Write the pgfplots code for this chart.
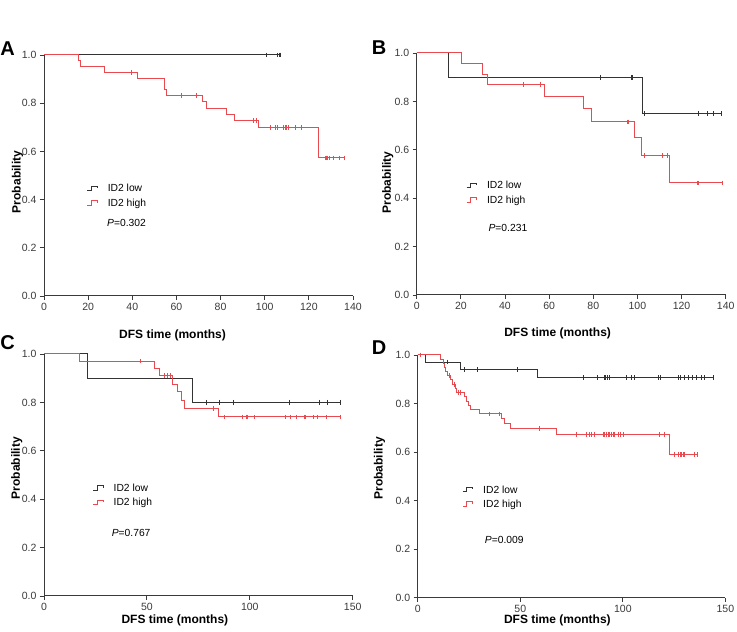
\documentclass[border=0pt]{standalone}
\usepackage{fontspec}
\setmainfont{Liberation Sans}
\usepackage{pgfplots}
\pgfplotsset{compat=1.18}
\definecolor{kmred}{HTML}{E84A50}
\definecolor{kmblack}{HTML}{333333}
\definecolor{axgray}{HTML}{3A3A3A}
\pgfplotsset{
 kmaxis/.style={
  scale only axis, xmin=0, ymin=0, ymax=1,
  axis x line*=bottom, axis y line*=left,
  axis line style={axgray, line width=1pt, -},
  tick style={axgray, line width=0.9pt},
  tick align=outside, major tick length=4pt,
  ytick={0,0.2,0.4,0.6,0.8,1},
  yticklabel style={/pgf/number format/fixed, /pgf/number format/fixed zerofill, /pgf/number format/precision=1},
  ticklabel style={font=\fontsize{10.5}{12}\selectfont, text=axgray},
  /pgf/number format/assume math mode=true,
  xlabel={DFS time (months)}, ylabel={Probability},
  label style={font=\bfseries\fontsize{12}{14}\selectfont, text=black},
  clip=false,
  legend cell align=left,
  legend style={draw=none, fill=none, inner sep=0pt, outer sep=0pt, anchor=north west,
    font=\fontsize{10.3}{12}\selectfont, row sep=4.7pt, column sep=10pt,
    nodes={inner sep=0pt, text height=7.5pt, text depth=2.2pt}},
  legend image code/.code={\draw[#1, line width=0.9pt] (0pt,-1.5pt) -- (4pt,-1.5pt) -- (4pt,3pt) -- (10pt,3pt) -- (10pt,1pt);},
 },
 kmline/.style={const plot, no marks, line width=1pt},
 kmcens/.style={only marks, mark=|, mark size=2.4pt, mark options={line width=0.7pt}, forget plot},
}
\newcommand{\pfont}{\fontsize{10.3}{12}\selectfont}
\begin{document}
\begin{tikzpicture}[x=1pt,y=1pt]
\useasboundingbox (0,0) rectangle (737,632);
% ---------------- A ----------------
\begin{axis}[kmaxis, at={(44pt,336pt)}, anchor=south west, width=309pt, height=241pt,
  xmax=140, xtick={0,20,...,140},
  xlabel style={at={(axis description cs:0.416,-0.162)}, anchor=center},
  ylabel style={at={(axis description cs:-0.086,0.473)}, anchor=center},
  legend style={at={(axis description cs:0.139,0.463)}}]
\addplot[kmline, kmblack] coordinates {(0,1) (107.2,1)};
\addlegendentry{ID2 low}
\addplot[kmline, kmred] coordinates {(0,1) (15.5,0.976) (16.6,0.952) (27.2,0.929) (42.3,0.904) (54.4,0.855) (55.6,0.831) (71.7,0.805) (73.7,0.779) (82.5,0.753) (86.1,0.727) (97.3,0.698) (124.3,0.573) (136.5,0.573)};
\addlegendentry{ID2 high}
\addplot[kmcens, kmblack] coordinates {(100.6,1) (105.9,1) (106.6,1) (107.2,1)};
\addplot[kmcens, kmred] coordinates {(39.4,0.929) (62.3,0.831) (69.1,0.831) (95.0,0.727) (96.0,0.727) (102.4,0.698) (104.7,0.698) (105.7,0.698) (108.4,0.698) (109.3,0.698) (109.9,0.698) (110.7,0.698) (113.7,0.698) (116.8,0.698) (127.3,0.573) (128.0,0.573) (128.6,0.573) (129.3,0.573) (131.1,0.573) (133.7,0.573) (136.1,0.573)};
\node[anchor=west, inner sep=0pt, font=\pfont] at (axis description cs:0.204,0.302) {\textit{P}=0.302};
\end{axis}
% ---------------- B ----------------
\begin{axis}[kmaxis, at={(416.7pt,337pt)}, anchor=south west, width=309pt, height=242pt,
  xmax=140, xtick={0,20,...,140},
  xlabel style={at={(axis description cs:0.456,-0.158)}, anchor=center},
  ylabel style={at={(axis description cs:-0.094,0.465)}, anchor=center},
  legend style={at={(axis description cs:0.160,0.470)}}]
\addplot[kmline, kmblack] coordinates {(0,1) (14.2,0.9) (102.1,0.75) (137.9,0.75)};
\addlegendentry{ID2 low}
\addplot[kmline, kmred] coordinates {(0,1) (20.2,0.957) (29.9,0.913) (32.2,0.869) (57.8,0.821) (75.7,0.769) (79.1,0.715) (98.8,0.652) (101.8,0.577) (114.5,0.463) (138.6,0.463)};
\addlegendentry{ID2 high}
\addplot[kmcens, kmblack] coordinates {(83.2,0.9) (97.1,0.9) (97.9,0.9) (103.3,0.75) (127.8,0.75) (131.8,0.75) (134.5,0.75) (137.9,0.75)};
\addplot[kmcens, kmred] coordinates {(48.5,0.869) (56.0,0.869) (95.3,0.715) (96.0,0.715) (103.2,0.577) (111.1,0.577) (113.4,0.577) (127.0,0.463) (127.8,0.463) (138.6,0.463)};
\node[anchor=west, inner sep=0pt, font=\pfont] at (axis description cs:0.232,0.278) {\textit{P}=0.231};
\end{axis}
% ---------------- C ----------------
\begin{axis}[kmaxis, at={(44pt,36pt)}, anchor=south west, width=308.7pt, height=242pt,
  xmax=150, xtick={0,50,100,150},
  xlabel style={at={(axis description cs:0.424,-0.099)}, anchor=center},
  ylabel style={at={(axis description cs:-0.088,0.528)}, anchor=center},
  legend style={at={(axis description cs:0.158,0.463)}}]
\addplot[kmline, kmblack] coordinates {(0,1) (21.1,0.9) (72.2,0.8) (143.8,0.8)};
\addlegendentry{ID2 low}
\addplot[kmline, kmred] coordinates {(0,1) (17.4,0.971) (53.9,0.941) (55.9,0.910) (62.2,0.876) (65.0,0.843) (66.6,0.809) (68.4,0.775) (85.0,0.740) (143.8,0.740)};
\addlegendentry{ID2 high}
\addplot[kmcens, kmblack] coordinates {(79.0,0.8) (85.0,0.8) (91.9,0.8) (119.0,0.8) (133.7,0.8) (137.9,0.8) (143.8,0.8)};
\addplot[kmcens, kmred] coordinates {(46.9,0.971) (58.3,0.910) (59.8,0.910) (61.3,0.910) (82.2,0.775) (87.4,0.740) (96.4,0.740) (98.1,0.740) (98.7,0.740) (102.4,0.740) (117.5,0.740) (119.5,0.740) (122.7,0.740) (126.4,0.740) (127.2,0.740) (131.1,0.740) (132.7,0.740) (137.3,0.740) (143.8,0.740)};
\node[anchor=west, inner sep=0pt, font=\pfont] at (axis description cs:0.219,0.259) {\textit{P}=0.767};
\end{axis}
% ---------------- D ----------------
\begin{axis}[kmaxis, at={(417.7pt,34.3pt)}, anchor=south west, width=307.7pt, height=242.7pt,
  xmax=150, xtick={0,50,100,150},
  xlabel style={at={(axis description cs:0.454,-0.092)}, anchor=center},
  ylabel style={at={(axis description cs:-0.124,0.533)}, anchor=center},
  legend style={at={(axis description cs:0.145,0.462)}}]
\addplot[kmline, kmblack] coordinates {(0,1) (3.8,0.971) (20.8,0.941) (58.4,0.906) (144.0,0.906)};
\addlegendentry{ID2 low}
\addplot[kmline, kmred] coordinates {(0,1) (11.2,0.983) (12.4,0.966) (12.9,0.948) (13.7,0.931) (14.6,0.914) (16.0,0.897) (17.0,0.880) (18.4,0.862) (19.0,0.845) (23.0,0.828) (23.8,0.810) (24.9,0.793) (25.9,0.775) (30.2,0.757) (40.8,0.738) (42.1,0.718) (45.4,0.697) (67.6,0.673) (122.6,0.589) (136.4,0.589)};
\addlegendentry{ID2 high}
\addplot[kmcens, kmblack] coordinates {(14.3,0.971) (22.9,0.941) (29.0,0.941) (48.5,0.941) (80.6,0.906) (87.5,0.906) (91.2,0.906) (91.7,0.906) (92.3,0.906) (93.6,0.906) (101.7,0.906) (104.2,0.906) (105.8,0.906) (117.2,0.906) (118.3,0.906) (126.9,0.906) (128.2,0.906) (129.9,0.906) (131.8,0.906) (133.8,0.906) (136.0,0.906) (138.3,0.906) (139.9,0.906) (144.0,0.906)};
\addplot[kmcens, kmred] coordinates {(1.5,1) (15.3,0.914) (17.7,0.880) (20.0,0.845) (21.0,0.845) (35.1,0.757) (40.0,0.757) (59.5,0.697) (77.4,0.673) (82.3,0.673) (83.9,0.673) (84.7,0.673) (86.3,0.673) (90.4,0.673) (91.2,0.673) (92.0,0.673) (92.8,0.673) (93.6,0.673) (94.4,0.673) (95.2,0.673) (96.0,0.673) (97.7,0.673) (99.0,0.673) (100.4,0.673) (118.0,0.673) (120.4,0.673) (125.3,0.589) (127.0,0.589) (127.8,0.589) (128.6,0.589) (129.4,0.589) (130.2,0.589) (135.1,0.589) (136.4,0.589)};
\node[anchor=west, inner sep=0pt, font=\pfont] at (axis description cs:0.218,0.238) {\textit{P}=0.009};
\end{axis}
% panel letters
\node[font=\bfseries\fontsize{20}{20}\selectfont, inner sep=0pt] at (7.5,583) {A};
\node[font=\bfseries\fontsize{20}{20}\selectfont, inner sep=0pt] at (379,584.5) {B};
\node[font=\bfseries\fontsize{20}{20}\selectfont, inner sep=0pt] at (7.5,289.5) {C};
\node[font=\bfseries\fontsize{20}{20}\selectfont, inner sep=0pt] at (379,284.5) {D};
\end{tikzpicture}
\end{document}
